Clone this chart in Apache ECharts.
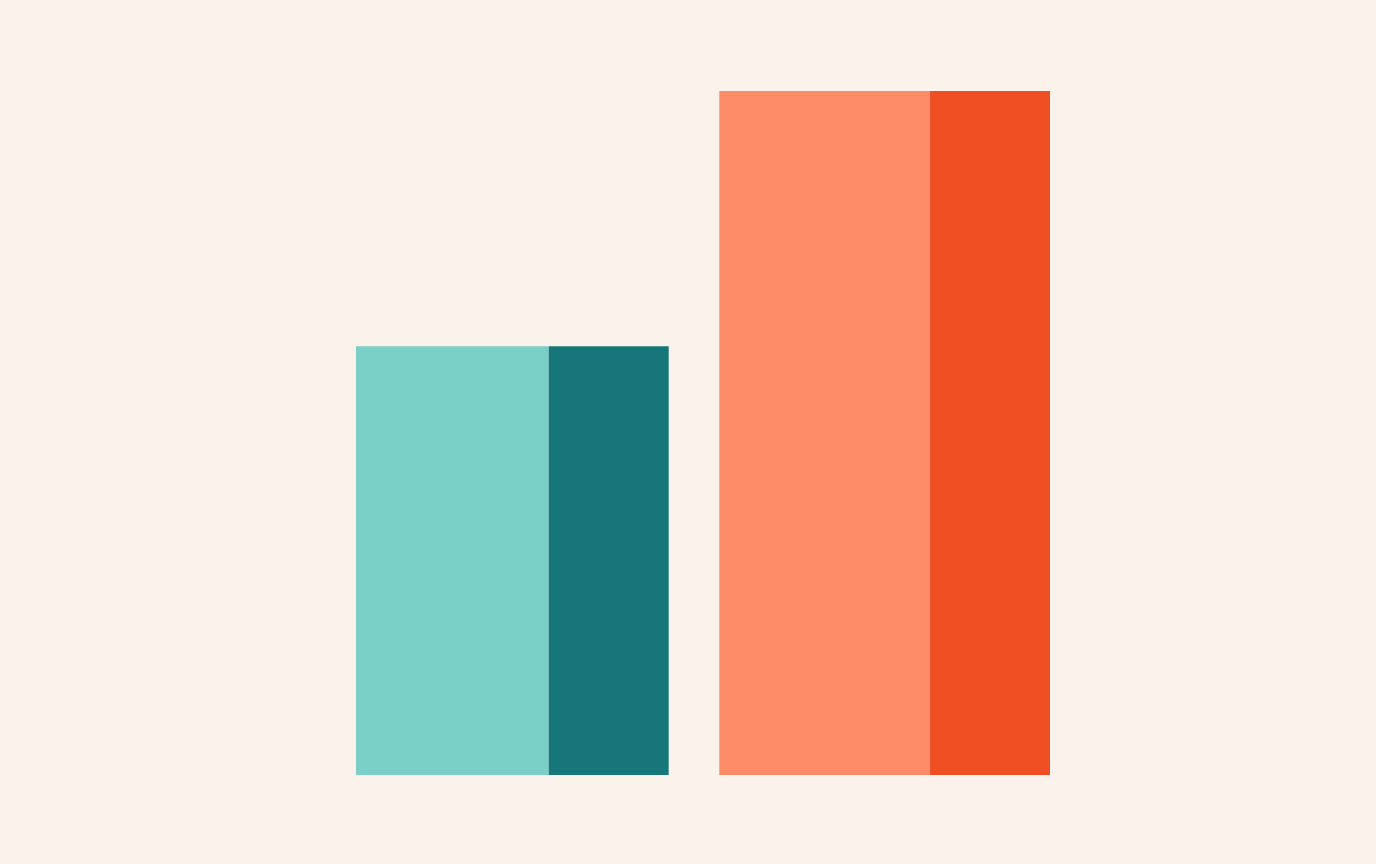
<!DOCTYPE html>
<html>
<head>
<meta charset="utf-8">
<script src="https://cdn.jsdelivr.net/npm/echarts@6/dist/echarts.min.js"></script>
<style>
html,body{margin:0;padding:0;background:#FBF2EC;}
#main{width:1376px;height:864px;}
</style>
</head>
<body>
<div id="main"></div>
<script>
// Data
const categories = ['Group A', 'Group B'];
const heights = [62.7, 100];
const lightWidths = [27.8, 30.4];
const darkWidths = [17.3, 17.3];
const lightColors = ['#7ACFC6', '#FF8C69'];
const darkColors = ['#16767A', '#F04E23'];

const GAP = 7.3;
const items = [];
let cursor = 0;
categories.forEach((c, i) => {
  items.push({ value: [cursor, cursor + lightWidths[i], heights[i]], itemStyle: { color: lightColors[i] }, name: c });
  cursor += lightWidths[i];
  items.push({ value: [cursor, cursor + darkWidths[i], heights[i]], itemStyle: { color: darkColors[i] }, name: c });
  cursor += darkWidths[i];
  if (i < categories.length - 1) cursor += GAP;
});
const xMax = cursor;

const chart = echarts.init(document.getElementById('main'));
chart.setOption({
  backgroundColor: '#FBF2EC',
  animation: false,
  grid: { left: 356, right: 326, top: 91, bottom: 89 },
  xAxis: { type: 'value', min: 0, max: xMax, show: false },
  yAxis: { type: 'value', min: 0, max: 100, show: false },
  series: [{
    type: 'custom',
    data: items,
    encode: { x: [0, 1], y: 2 },
    renderItem: function (params, api) {
      const p0 = api.coord([api.value(0), api.value(2)]);
      const p1 = api.coord([api.value(1), 0]);
      return {
        type: 'rect',
        shape: { x: p0[0], y: p0[1], width: p1[0] - p0[0], height: p1[1] - p0[1] },
        style: { fill: api.visual('color') }
      };
    }
  }]
});
</script>
</body>
</html>
